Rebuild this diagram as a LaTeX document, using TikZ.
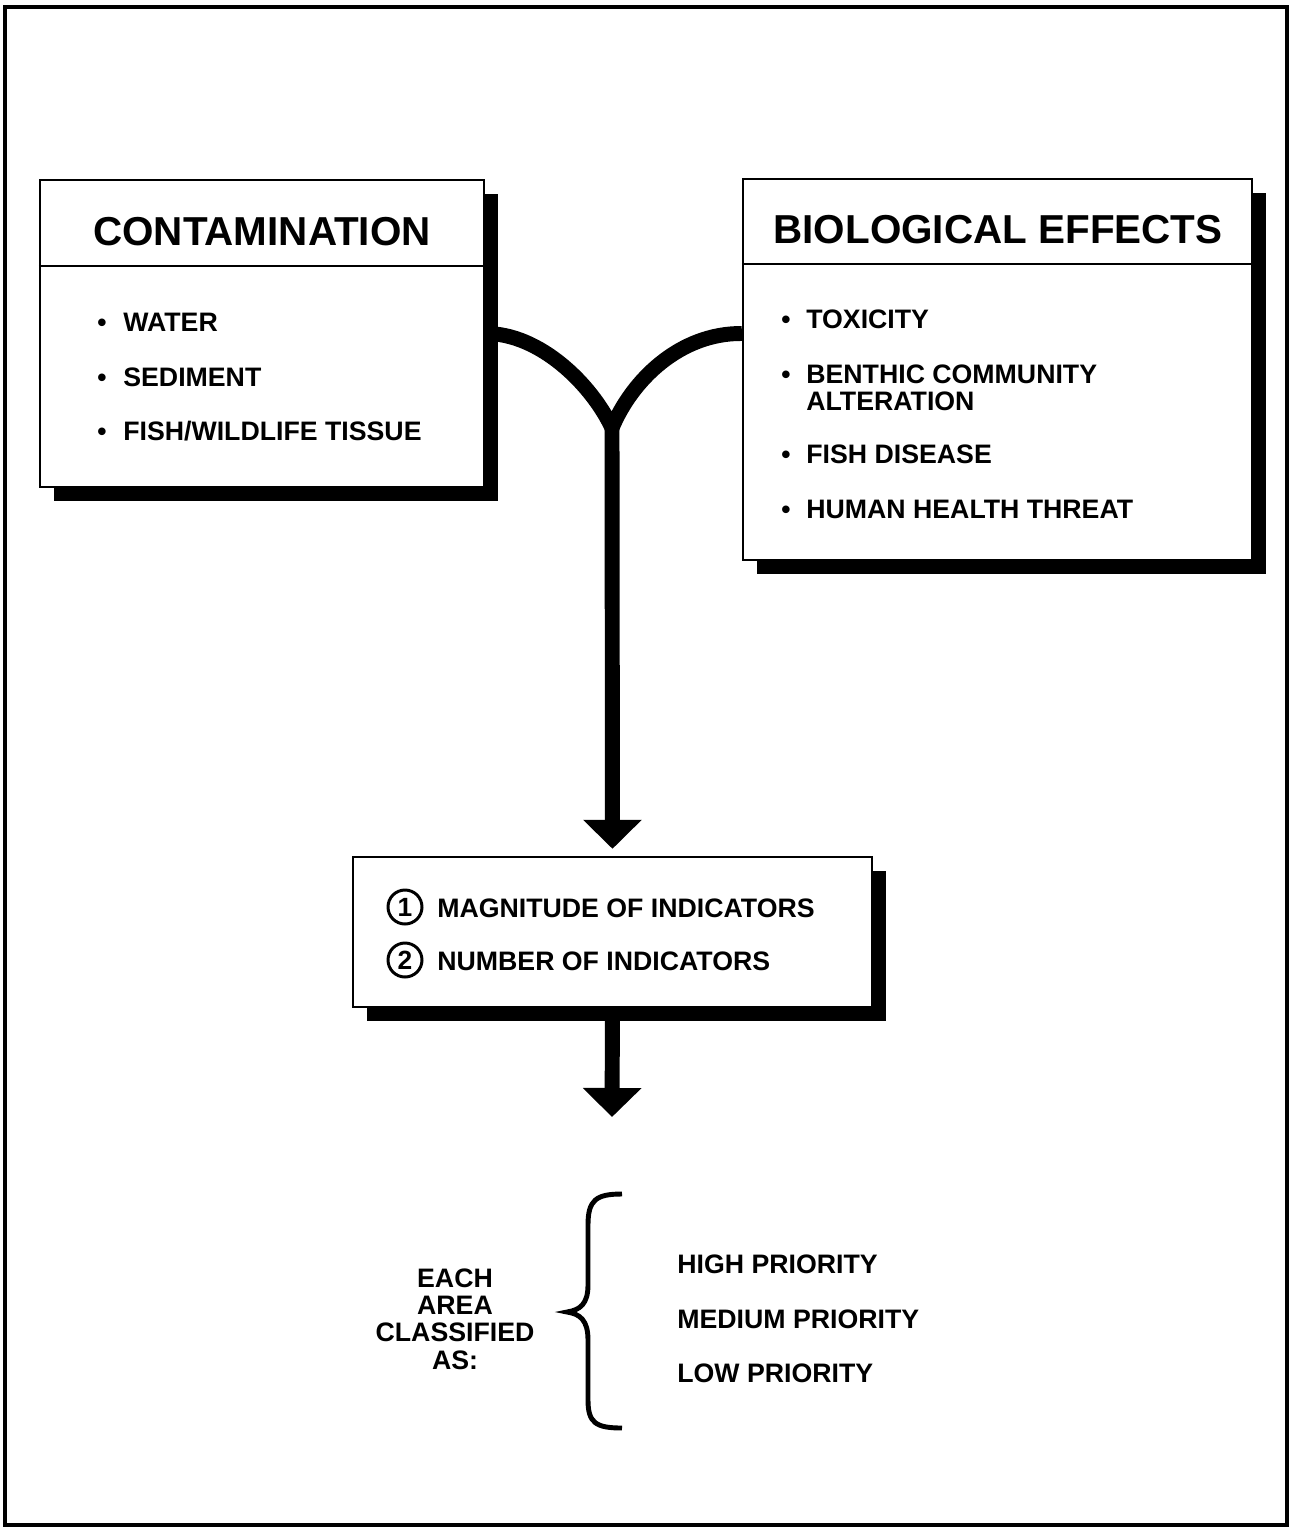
\documentclass[tikz,border=0pt]{standalone}
\usepackage{fontspec}
\setmainfont{Liberation Sans}
\usetikzlibrary{arrows.meta,shadows}

\begin{document}
\begin{tikzpicture}[x=0.02cm,y=-0.02cm,
panel/.style={draw,line width=1.4pt,fill=white,inner sep=0pt,drop shadow={shadow xshift=0.28cm,shadow yshift=-0.28cm,fill=black,opacity=1}},
head/.style={font=\fontsize{23}{27}\selectfont\bfseries,inner sep=0pt,anchor=base},
item/.style={font=\fontsize{15.2}{15.5}\selectfont\bfseries,inner sep=0pt,anchor=base west},
dot/.style={font=\fontsize{15}{15.5}\selectfont\bfseries,inner sep=0pt,anchor=base},
flow/.style={line width=8.5pt},
tip/.style={-{Triangle[width=1.14cm,length=0.58cm]}},
num/.style={draw,circle,line width=1.7pt,minimum size=0.68cm,inner sep=0pt,font=\fontsize{15}{15}\selectfont\bfseries}]

\useasboundingbox (0,0) rectangle (1292,1529);
\draw[line width=2.8pt] (5,7) rectangle (1287,1525);

% the two source boxes
\node[panel,minimum width=8.88cm,minimum height=6.14cm] (cont) at (262,333.5) {};
\draw[line width=1pt] ([yshift=-1.74cm]cont.north west) -- ([yshift=-1.74cm]cont.north east);
\node[head] (conthead) at (262,245) {CONTAMINATION};
\foreach \txt/\yy [count=\i] in {{WATER}/331,{SEDIMENT}/386,{FISH/WILDLIFE TISSUE}/440}{
  \node[dot] (cdot\i) at (102,\yy) {\textbullet};
  \node[item] (citem\i) at (123,\yy) {\txt};
}

\node[panel,minimum width=10.18cm,minimum height=7.62cm] (bio) at (997.5,369.5) {};
\draw[line width=1pt] ([yshift=-1.72cm]bio.north west) -- ([yshift=-1.72cm]bio.north east);
\node[head] (biohead) at (998,243) {BIOLOGICAL EFFECTS};
\foreach \txt/\yy [count=\i] in {TOXICITY/328,BENTHIC COMMUNITY/383,FISH DISEASE/463,HUMAN HEALTH THREAT/518}{
  \node[dot] (bdot\i) at (786,\yy) {\textbullet};
  \node[item] (bitem\i) at (806,\yy) {\txt};
}
\node[item] (bitem2b) at (806,410) {ALTERATION};

% middle box
\node[panel,minimum width=10.38cm,minimum height=3cm] (ind) at (612.5,932) {};
\node[num] (n1) at (405,907) {1};
\node[item] (m1) at (437,917) {MAGNITUDE OF INDICATORS};
\node[num] (n2) at (405,960) {2};
\node[item] (m2) at (437,970) {NUMBER OF INDICATORS};

% connectors
\coordinate (fork) at (612,428);
\coordinate (out) at (612,1117);
\draw[flow] (cont.east) .. controls (540,333) and (592,385) .. (fork)
  .. controls (632,380) and (680,333) .. (bio.west |- cont.east);
\draw[flow,tip,shorten >=0.14cm] (fork) -- (ind.north);
\draw[flow,tip] (ind.south) -- (out);

% result
\node[font=\fontsize{15.2}{15.5}\selectfont\bfseries,align=center,inner sep=0pt] (each) at (455,1319) {EACH\\AREA\\CLASSIFIED\\AS:};
\draw[line width=2.8pt] (622,1194) .. controls (596,1194) and (588,1200) .. (588,1225) -- (588,1285)
  .. controls (588,1304) and (580,1310) .. (567,1312)
  .. controls (580,1314) and (588,1320) .. (588,1340) -- (588,1400)
  .. controls (588,1423) and (596,1428) .. (622,1428);
\node[item] (high) at (677,1273) {HIGH PRIORITY};
\node[item] (med) at (677,1328) {MEDIUM PRIORITY};
\node[item] (low) at (677,1382) {LOW PRIORITY};
\end{tikzpicture}
\end{document}
